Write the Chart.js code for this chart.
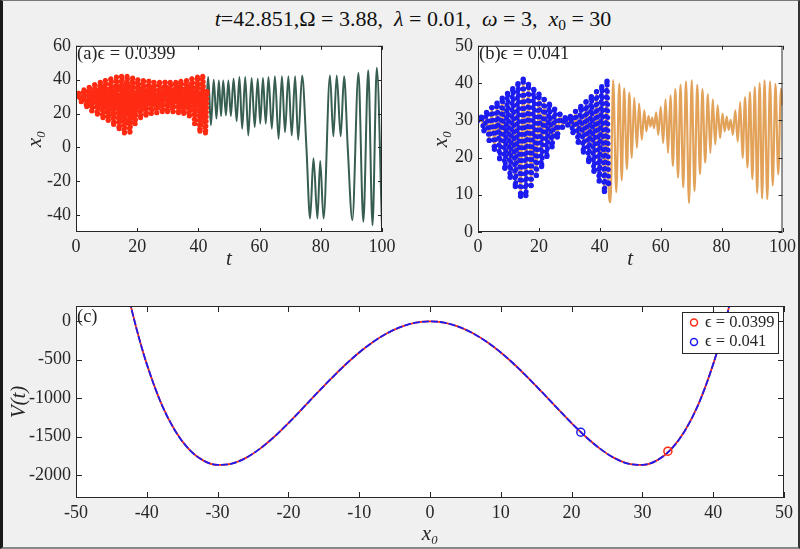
<!DOCTYPE html>
<html>
<head>
<meta charset="utf-8">
<script src="https://cdn.jsdelivr.net/npm/chart.js@4.4.1/dist/chart.umd.min.js"></script>
<style>
  html, body { margin: 0; padding: 0; }
  body { width: 800px; height: 549px; background: #f0f0f0; position: relative; overflow: hidden; font-family: "Liberation Serif", serif; }
  canvas { position: absolute; }
  #title { position: absolute; left: 0; top: 6px; width: 826px; text-align: center; font-size: 22px; line-height: 26px; color: #111; white-space: nowrap; }
  #title sub { font-size: 0.7em; vertical-align: -0.25em; line-height: 0; }
  #frame { position: absolute; left: 0; top: 0; width: 800px; height: 549px; box-sizing: border-box; pointer-events: none;
           border-left: 3px solid #1a1a1a; border-right: 2px solid #333; border-top: 1px solid #777; border-bottom: 2px solid #888; }
</style>
</head>
<body>
<div id="title"><i>t</i>=42.851,Ω = 3.88,&nbsp; <i>λ</i> = 0.01,&nbsp; <i>ω</i> = 3,&nbsp; <i>x</i><sub>0</sub> = 30</div>
<canvas id="chartA" width="400" height="260" style="left:0;top:30px"></canvas>
<canvas id="chartB" width="400" height="260" style="left:400px;top:30px"></canvas>
<canvas id="chartC" width="800" height="259" style="left:0;top:290px"></canvas>
<div id="frame"></div>
<script>
// current time of the animation frame
const tNow = 42.851;

// (a) eps = 0.0399 : turning points of x0(t)
const tA = [0, 0.8, 1.7, 2.6, 3.5, 4.3, 5.2, 6.1, 7.0, 7.9,
    8.8, 9.6, 10.5, 11.4, 12.3, 13.2, 14.1, 14.9, 15.8, 16.7,
    17.6, 18.5, 19.3, 20.2, 21.1, 22.0, 22.9, 23.8, 24.6, 25.5,
    26.4, 27.3, 28.2, 29.1, 29.9, 30.8, 31.7, 32.6, 33.5, 34.3,
    35.2, 36.1, 37.0, 37.9, 38.8, 39.7, 40.5, 41.4, 42.3, 42.851,
    43.2, 44.1, 45.0, 45.9, 46.7, 47.4, 48.1, 49.0, 49.8, 50.6,
    51.5, 52.5, 53.4, 54.3, 55.3, 56.3, 57.4, 58.4, 59.4, 60.2,
    61.1, 62.0, 62.9, 64.0, 65.0, 66.2, 67.3, 68.3, 69.4, 70.5,
    71.6, 72.6, 73.9, 75.3, 76.5, 77.6, 78.9, 79.8, 80.9, 83.0,
    84.1, 85.2, 86.5, 87.6, 88.8, 90.3, 92.3, 93.9, 95.5, 96.9,
    98.3, 100];
const xA = [30, 32, 27, 34, 24, 35.5, 21.5, 37, 19.5, 38.5,
    17.5, 39.5, 16, 40.5, 13.5, 41.5, 11, 42, 8.5, 42,
    9, 41, 14, 40, 17.5, 39.5, 19, 39, 20, 38.5,
    20.5, 38.5, 21, 38.5, 21, 38.5, 21, 38.5, 20.5, 39,
    20, 39.5, 18.5, 40.5, 14, 41.5, 9.5, 42, 8.5, 33,
    41.5, 13, 40, 17, 39.5, 18.5, 39.5, 19, 39.5, 18.5,
    40.5, 15.5, 41.5, 11, 41.5, 7, 41, 12, 40.5, 14,
    41, 14, 41.5, 11, 42, 5, 42, 9, 42, 7,
    42, 4.5, 42.5, 0, -42, -6.5, -42, -8, -42, 42.5,
    6.5, 42.5, 6.5, 42, 0, -43, 44, -44, 45.5, -46,
    47, -47];

// (b) eps = 0.041
const tB = [0, 1.10, 1.96, 2.82, 3.68, 4.54, 5.40, 6.26, 7.12, 7.98,
    8.84, 9.70, 10.56, 11.42, 12.28, 13.14, 14.00, 14.86, 15.72, 16.58,
    17.44, 18.30, 19.16, 20.02, 20.88, 21.74, 22.60, 23.46, 24.32, 25.18,
    26.04, 26.90, 27.76, 28.62, 29.48, 30.34, 31.20, 32.06, 32.92, 33.78,
    34.64, 35.50, 36.36, 37.22, 38.08, 38.94, 39.80, 40.66, 41.52, 42.38,
    42.851,
    43.5, 44.4, 45.4, 46.4, 47.2, 48.0, 48.9, 49.7, 50.5, 51.3,
    52.2, 52.9, 53.8, 54.6, 55.3, 56.0, 56.6, 57.2, 57.8, 58.5,
    59.2, 60.0, 60.8, 61.6, 62.4, 63.2, 64.0, 64.8, 65.7, 66.5,
    67.4, 68.3, 69.3, 70.2, 71.1, 72.0, 72.9, 73.7, 74.6, 75.5,
    76.3, 77.1, 77.9, 78.7, 79.5, 80.3, 81.0, 81.7, 82.3, 83.0,
    83.7, 84.5, 85.3, 86.1, 86.9, 87.7, 88.5, 89.3, 90.1, 90.9,
    91.7, 92.5, 93.3, 94.1, 95.0, 95.9, 96.8, 97.7, 98.6, 99.5,
    100];
const xB = [30, 30.8, 27.2, 32.1, 24.6, 33.4, 22.2, 34.6, 19.7, 35.9,
    17.1, 37.2, 14.7, 38.5, 12.2, 39.8, 9.6, 41.0, 9.8, 39.6,
    12.5, 38.3, 15.2, 37.0, 17.6, 35.6, 20.3, 34.3, 22.9, 33.0,
    25.5, 31.6, 28.1, 30.7, 28.7, 31.0, 26.7, 32.4, 24.1, 33.7,
    21.5, 35.0, 18.9, 36.3, 16.3, 37.7, 13.7, 39.0, 10.9, 40.5,
    13,
    8.0, 40.7, 10.7, 39.8, 13.9, 38.6, 16.9, 37.4, 19.9, 36.0,
    22.6, 34.5, 24.8, 32.7, 27.0, 31.2, 28.3, 30.7, 27.9, 32.1,
    26.1, 33.6, 23.9, 35.6, 21.2, 36.7, 17.7, 38.4, 14.6, 39.5,
    12.0, 40.4, 7.8, 40.7, 11.0, 39.5, 15.5, 38.4, 18.6, 37.0,
    21.2, 35.6, 23.5, 34.0, 25.2, 31.8, 27.0, 31.0, 27.4, 30.1,
    26.1, 32.7, 24.3, 34.9, 19.9, 36.2, 17.3, 37.6, 14.2, 38.9,
    10.5, 40.0, 9.0, 40.7, 8.8, 40.4, 12.5, 39.8, 15.5, 38.5,
    34];

// (c) potential V against x0
const xV = [-43, -42, -41, -40, -38, -36, -34, -32, -30, -28, -26, -24, -22, -20, -18, -16, -14, -12, -10, -8, -6, -4, -2,
    0, 2, 4, 6, 8, 10, 12, 14, 16, 18, 20, 22, 24, 26, 28, 30, 32, 34, 36, 38, 40, 41, 42, 43];
const vV = [494, 101, -249, -557, -1061, -1424, -1670, -1813, -1869, -1853, -1778, -1657, -1503, -1325, -1134, -939, -748, -568, -405, -265, -152, -68, -17,
    0, -17, -68, -152, -265, -405, -568, -748, -939, -1134, -1325, -1503, -1657, -1778, -1853, -1869, -1813, -1670, -1424, -1061, -557, -249, 101, 494];
const markX = [33.6, 21.3];
const markV = [-1691, -1444];
const epsLabels = ['ϵ = 0.0399', 'ϵ = 0.041'];

// tick values
const ticksT = [0, 20, 40, 60, 80, 100];
const ticksXA = [-40, -20, 0, 20, 40, 60];
const ticksXB = [0, 10, 20, 30, 40, 50];
const ticksXC = [-50, -40, -30, -20, -10, 0, 10, 20, 30, 40, 50];
const ticksVC = [-2000, -1500, -1000, -500, 0];

const red = '#ff2a12', blue = '#1c1cf0', green = '#375e51', orange = '#e3a25a';
const axisCol = '#262626';
const serif = 'Liberation Serif';

function pts(ts, xs) {
    return ts.map((t, i) => ({x: t, y: xs[i]}));
}

// white plot area, MATLAB style box with inward ticks and a panel tag
const framePlugin = {
    id: 'frame',
    beforeDraw(chart) {
        const a = chart.chartArea;
        chart.ctx.save();
        chart.ctx.fillStyle = '#fff';
        chart.ctx.fillRect(a.left, a.top, a.width, a.height);
        chart.ctx.restore();
    },
    afterDatasetsDraw(chart, args, o) {
        const {ctx, chartArea: a, scales: {x, y}} = chart;
        ctx.save();
        ctx.strokeStyle = axisCol;
        ctx.lineWidth = 1;
        ctx.beginPath();
        x.ticks.forEach(t => {
            const px = Math.round(x.getPixelForValue(t.value)) + 0.5;
            ctx.moveTo(px, a.bottom); ctx.lineTo(px, a.bottom - o.len);
            ctx.moveTo(px, a.top); ctx.lineTo(px, a.top + o.len);
        });
        y.ticks.forEach(t => {
            const py = Math.round(y.getPixelForValue(t.value)) + 0.5;
            ctx.moveTo(a.left, py); ctx.lineTo(a.left + o.len, py);
            ctx.moveTo(a.right, py); ctx.lineTo(a.right - o.len, py);
        });
        ctx.stroke();
        ctx.strokeRect(a.left + 0.5, a.top + 0.5, a.width - 1, a.height - 1);
        ctx.fillStyle = axisCol;
        ctx.font = '18.5px "' + serif + '"';
        ctx.textBaseline = 'middle';
        ctx.fillText(o.label, a.left + 1, a.top + o.labelDy);
        ctx.restore();
    }
};

// boxed legend in the top right corner of panel (c)
const boxLegend = {
    id: 'boxLegend',
    afterDraw(chart, args, o) {
        if (!o.show) return;
        const {ctx, chartArea: a} = chart;
        const w = 96, h = 41, left = a.right - w - 6, top = a.top + 6;
        ctx.save();
        ctx.fillStyle = '#fff';
        ctx.fillRect(left, top, w, h);
        ctx.strokeStyle = axisCol;
        ctx.lineWidth = 1;
        ctx.strokeRect(left + 0.5, top + 0.5, w, h);
        ctx.font = '16.5px "' + serif + '"';
        ctx.textBaseline = 'middle';
        chart.data.datasets.slice(0, 2).forEach((ds, i) => {
            const cy = top + 10.5 + i * 19.5;
            ctx.beginPath();
            ctx.arc(left + 12, cy, 3.5, 0, Math.PI * 2);
            ctx.strokeStyle = ds.pointBorderColor;
            ctx.lineWidth = 1.5;
            ctx.stroke();
            ctx.fillStyle = axisCol;
            ctx.fillText(ds.label, left + 23, cy);
        });
        ctx.restore();
    }
};

function scales(o) {
    const tickFont = {family: serif, size: 18};
    const titleFont = {family: serif, size: 21, style: 'italic'};
    return {
        x: {
            type: 'linear', min: o.xMin, max: o.xMax,
            afterBuildTicks: s => { s.ticks = o.xTicks.map(v => ({value: v})); },
            afterFit: s => { s.height = o.xh; },
            grid: {display: false, drawTicks: false},
            border: {display: false},
            ticks: {padding: 4, maxRotation: 0, autoSkip: false, font: tickFont, color: axisCol, callback: v => String(v)},
            title: {display: true, text: o.xt, color: axisCol, font: titleFont, padding: {top: 0, bottom: o.xp}}
        },
        y: {
            type: 'linear', min: o.yMin, max: o.yMax,
            afterBuildTicks: s => { s.ticks = o.yTicks.map(v => ({value: v})); },
            afterFit: s => { s.width = o.yw; },
            grid: {display: false, drawTicks: false},
            border: {display: false},
            ticks: {padding: 5, autoSkip: false, font: tickFont, color: axisCol, callback: v => String(v)},
            title: {display: true, text: o.yt, color: axisCol, font: titleFont, padding: {top: o.yp, bottom: 0}}
        }
    };
}

function baseOptions(o) {
    return {
        responsive: false,
        animation: false,
        events: [],
        layout: {padding: o.pad},
        scales: scales(o),
        plugins: {
            legend: {display: false},
            tooltip: {enabled: false},
            frame: {len: o.len, label: o.label, labelDy: o.labelDy},
            boxLegend: {show: !!o.legend}
        }
    };
}

const lineA = pts(tA, xA);
new Chart(document.getElementById('chartA'), {
    type: 'line',
    data: {
        datasets: [{
            label: 'ϵ = 0.0399',
            data: lineA.filter(p => p.x <= tNow),
            borderColor: red, borderWidth: 5, borderDash: [0, 4.5], borderCapStyle: 'round',
            pointRadius: 2.5, pointBackgroundColor: red, pointBorderWidth: 0,
            cubicInterpolationMode: 'monotone'
        }, {
            data: lineA,
            borderColor: green, borderWidth: 2, pointRadius: 0,
            cubicInterpolationMode: 'monotone'
        }]
    },
    options: baseOptions({
        pad: {left: 0, top: 13, right: 18, bottom: 0},
        xMin: 0, xMax: 100, xTicks: ticksT, xh: 58, xt: 't', xp: 18,
        yMin: -50, yMax: 60, yTicks: ticksXA, yw: 76, yt: 'x₀', yp: 23,
        len: 4, label: '(a)ϵ = 0.0399', labelDy: 8
    }),
    plugins: [framePlugin, boxLegend]
});

const lineB = pts(tB, xB);
new Chart(document.getElementById('chartB'), {
    type: 'line',
    data: {
        datasets: [{
            label: 'ϵ = 0.041',
            data: lineB.filter(p => p.x <= tNow),
            borderColor: blue, borderWidth: 5, borderDash: [0, 6.5], borderCapStyle: 'round',
            pointRadius: 2.7, pointBackgroundColor: blue, pointBorderWidth: 0,
            cubicInterpolationMode: 'monotone'
        }, {
            data: lineB,
            borderColor: orange, borderWidth: 2.2, pointRadius: 0,
            cubicInterpolationMode: 'monotone'
        }]
    },
    options: baseOptions({
        pad: {left: 0, top: 13, right: 16, bottom: 0},
        xMin: 0, xMax: 100, xTicks: ticksT, xh: 58, xt: 't', xp: 18,
        yMin: 0, yMax: 50, yTicks: ticksXB, yw: 78, yt: 'x₀', yp: 29,
        len: 4, label: '(b)ϵ = 0.041', labelDy: 8
    }),
    plugins: [framePlugin, boxLegend]
});

const curveV = pts(xV, vV);
new Chart(document.getElementById('chartC'), {
    type: 'line',
    data: {
        datasets: [{
            label: epsLabels[0],
            data: [{x: markX[0], y: markV[0]}],
            showLine: false, pointRadius: 4, pointBorderWidth: 1.5,
            pointBorderColor: red, pointBackgroundColor: 'rgba(0,0,0,0)'
        }, {
            label: epsLabels[1],
            data: [{x: markX[1], y: markV[1]}],
            showLine: false, pointRadius: 4, pointBorderWidth: 1.5,
            pointBorderColor: blue, pointBackgroundColor: 'rgba(0,0,0,0)'
        }, {
            data: curveV,
            borderColor: blue, borderWidth: 1.8, borderDash: [7, 2], pointRadius: 0,
            cubicInterpolationMode: 'monotone'
        }, {
            data: curveV,
            borderColor: red, borderWidth: 1.8, pointRadius: 0,
            cubicInterpolationMode: 'monotone'
        }]
    },
    options: baseOptions({
        pad: {left: 0, top: 16, right: 16, bottom: 0},
        xMin: -50, xMax: 50, xTicks: ticksXC, xh: 51, xt: 'x₀', xp: 2,
        yMin: -2300, yMax: 200, yTicks: ticksVC, yw: 76, yt: 'V(t)', yp: 7,
        len: 6, label: '(c)', labelDy: 11, legend: true
    }),
    plugins: [framePlugin, boxLegend]
});
</script>
</body>
</html>
